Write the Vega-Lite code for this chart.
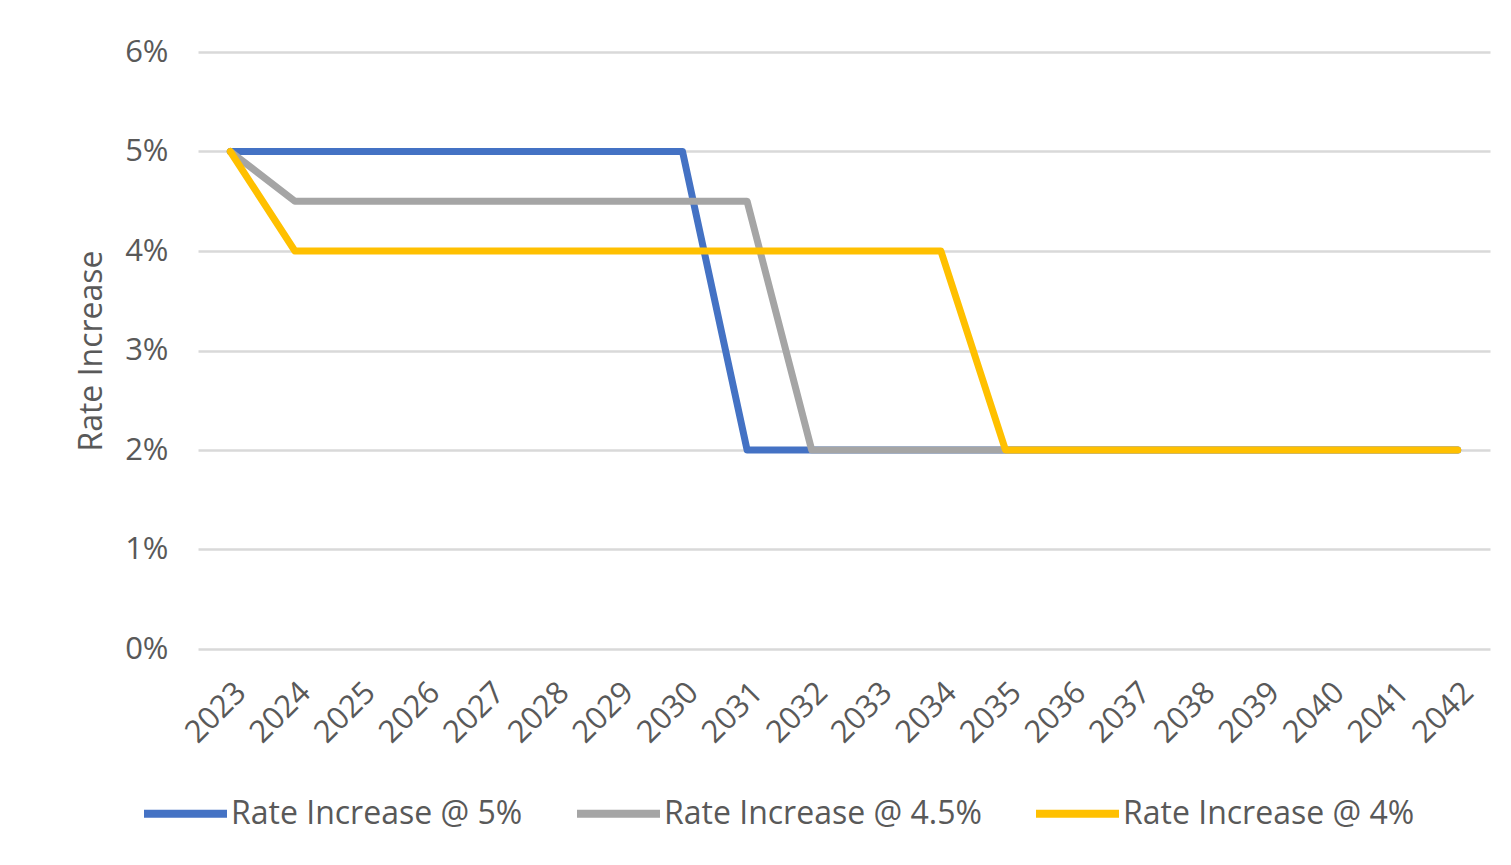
{
  "$schema": "https://vega.github.io/schema/vega-lite/v6.json",
  "width": 1292,
  "height": 597,
  "autosize": {"type": "none"},
  "padding": {"left": 198, "top": 52, "right": 21, "bottom": 216},
  "background": "white",
  "config": {"view": {"stroke": null}, "font": "Open Sans"},
  "data": {"values": [
    {"year": "2023", "series": "Rate Increase @ 5%", "rate": 0.05},
    {"year": "2024", "series": "Rate Increase @ 5%", "rate": 0.05},
    {"year": "2025", "series": "Rate Increase @ 5%", "rate": 0.05},
    {"year": "2026", "series": "Rate Increase @ 5%", "rate": 0.05},
    {"year": "2027", "series": "Rate Increase @ 5%", "rate": 0.05},
    {"year": "2028", "series": "Rate Increase @ 5%", "rate": 0.05},
    {"year": "2029", "series": "Rate Increase @ 5%", "rate": 0.05},
    {"year": "2030", "series": "Rate Increase @ 5%", "rate": 0.05},
    {"year": "2031", "series": "Rate Increase @ 5%", "rate": 0.02},
    {"year": "2032", "series": "Rate Increase @ 5%", "rate": 0.02},
    {"year": "2033", "series": "Rate Increase @ 5%", "rate": 0.02},
    {"year": "2034", "series": "Rate Increase @ 5%", "rate": 0.02},
    {"year": "2035", "series": "Rate Increase @ 5%", "rate": 0.02},
    {"year": "2036", "series": "Rate Increase @ 5%", "rate": 0.02},
    {"year": "2037", "series": "Rate Increase @ 5%", "rate": 0.02},
    {"year": "2038", "series": "Rate Increase @ 5%", "rate": 0.02},
    {"year": "2039", "series": "Rate Increase @ 5%", "rate": 0.02},
    {"year": "2040", "series": "Rate Increase @ 5%", "rate": 0.02},
    {"year": "2041", "series": "Rate Increase @ 5%", "rate": 0.02},
    {"year": "2042", "series": "Rate Increase @ 5%", "rate": 0.02},
    {"year": "2023", "series": "Rate Increase @ 4.5%", "rate": 0.05},
    {"year": "2024", "series": "Rate Increase @ 4.5%", "rate": 0.045},
    {"year": "2025", "series": "Rate Increase @ 4.5%", "rate": 0.045},
    {"year": "2026", "series": "Rate Increase @ 4.5%", "rate": 0.045},
    {"year": "2027", "series": "Rate Increase @ 4.5%", "rate": 0.045},
    {"year": "2028", "series": "Rate Increase @ 4.5%", "rate": 0.045},
    {"year": "2029", "series": "Rate Increase @ 4.5%", "rate": 0.045},
    {"year": "2030", "series": "Rate Increase @ 4.5%", "rate": 0.045},
    {"year": "2031", "series": "Rate Increase @ 4.5%", "rate": 0.045},
    {"year": "2032", "series": "Rate Increase @ 4.5%", "rate": 0.02},
    {"year": "2033", "series": "Rate Increase @ 4.5%", "rate": 0.02},
    {"year": "2034", "series": "Rate Increase @ 4.5%", "rate": 0.02},
    {"year": "2035", "series": "Rate Increase @ 4.5%", "rate": 0.02},
    {"year": "2036", "series": "Rate Increase @ 4.5%", "rate": 0.02},
    {"year": "2037", "series": "Rate Increase @ 4.5%", "rate": 0.02},
    {"year": "2038", "series": "Rate Increase @ 4.5%", "rate": 0.02},
    {"year": "2039", "series": "Rate Increase @ 4.5%", "rate": 0.02},
    {"year": "2040", "series": "Rate Increase @ 4.5%", "rate": 0.02},
    {"year": "2041", "series": "Rate Increase @ 4.5%", "rate": 0.02},
    {"year": "2042", "series": "Rate Increase @ 4.5%", "rate": 0.02},
    {"year": "2023", "series": "Rate Increase @ 4%", "rate": 0.05},
    {"year": "2024", "series": "Rate Increase @ 4%", "rate": 0.04},
    {"year": "2025", "series": "Rate Increase @ 4%", "rate": 0.04},
    {"year": "2026", "series": "Rate Increase @ 4%", "rate": 0.04},
    {"year": "2027", "series": "Rate Increase @ 4%", "rate": 0.04},
    {"year": "2028", "series": "Rate Increase @ 4%", "rate": 0.04},
    {"year": "2029", "series": "Rate Increase @ 4%", "rate": 0.04},
    {"year": "2030", "series": "Rate Increase @ 4%", "rate": 0.04},
    {"year": "2031", "series": "Rate Increase @ 4%", "rate": 0.04},
    {"year": "2032", "series": "Rate Increase @ 4%", "rate": 0.04},
    {"year": "2033", "series": "Rate Increase @ 4%", "rate": 0.04},
    {"year": "2034", "series": "Rate Increase @ 4%", "rate": 0.04},
    {"year": "2035", "series": "Rate Increase @ 4%", "rate": 0.02},
    {"year": "2036", "series": "Rate Increase @ 4%", "rate": 0.02},
    {"year": "2037", "series": "Rate Increase @ 4%", "rate": 0.02},
    {"year": "2038", "series": "Rate Increase @ 4%", "rate": 0.02},
    {"year": "2039", "series": "Rate Increase @ 4%", "rate": 0.02},
    {"year": "2040", "series": "Rate Increase @ 4%", "rate": 0.02},
    {"year": "2041", "series": "Rate Increase @ 4%", "rate": 0.02},
    {"year": "2042", "series": "Rate Increase @ 4%", "rate": 0.02}
  ]},
  "mark": {"type": "line", "strokeWidth": 7, "strokeCap": "round", "strokeJoin": "round"},
  "encoding": {
    "x": {
      "field": "year", "type": "ordinal",
      "axis": {
        "title": null, "labelAngle": -45, "labelFontSize": 31, "labelColor": "#595959",
        "ticks": false, "domain": false, "labelPadding": 28
      }
    },
    "y": {
      "field": "rate", "type": "quantitative",
      "scale": {"domain": [0, 0.06]},
      "axis": {
        "values": [0, 0.01, 0.02, 0.03, 0.04, 0.05, 0.06], "format": ".0%",
        "grid": true, "gridColor": "#D9D9D9", "gridWidth": 2.5,
        "domain": false, "ticks": false, "labelPadding": 30,
        "labelFontSize": 31, "labelColor": "#595959",
        "title": "Rate Increase", "titleFontSize": 32, "titleFontWeight": "normal",
        "titleColor": "#595959", "titlePadding": 16
      }
    },
    "color": {
      "field": "series", "type": "nominal",
      "sort": ["Rate Increase @ 5%", "Rate Increase @ 4.5%", "Rate Increase @ 4%"],
      "scale": {
        "domain": ["Rate Increase @ 5%", "Rate Increase @ 4.5%", "Rate Increase @ 4%"],
        "range": ["#4472C4", "#A5A5A5", "#FFC000"]
      },
      "legend": {
        "title": null, "orient": "none", "direction": "horizontal", "columns": 3,
        "legendX": -58, "legendY": 716,
        "symbolType": "stroke", "symbolStrokeWidth": 8, "symbolSize": 6889,
        "labelFontSize": 32, "labelColor": "#595959", "labelOffset": 0,
        "columnPadding": 38, "labelLimit": 400
      }
    }
  }
}
